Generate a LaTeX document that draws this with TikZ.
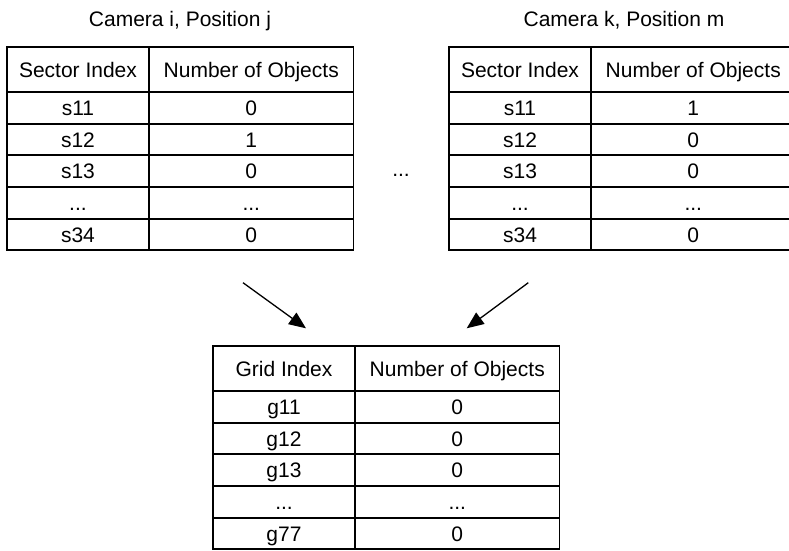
\documentclass[tikz,border=0pt]{standalone}
\usepackage{fontspec}
\setmainfont{Liberation Sans}
\usetikzlibrary{arrows.meta}

% one row of a two-column table: prefix, row number, y offset, left text, right text
\newcommand\tabrow[5]{%
  \node[cellA] (#1-#2-a) at (0,#3) {#4};
  \node[cellB] (#1-#2-b) at (142,#3) {#5};}

\begin{document}
\begin{tikzpicture}[x={(1pt,0)}, y={(0,-1pt)},
  every node/.style={font=\fontsize{21}{25}\selectfont},
  cellA/.style={draw, line width=1.8pt, rectangle, anchor=north west,
    inner sep=0pt, outer sep=0pt, minimum width=142pt, minimum height=31.67pt,
    text height=15pt, text depth=0pt},
  cellB/.style={cellA, minimum width=204.5pt},
  headA/.style={cellA, minimum height=45pt},
  headB/.style={cellB, minimum height=45pt},
  title/.style={anchor=base},
  flow/.style={line width=1.3pt, -{Triangle[length=17pt,width=14pt]}}]

\useasboundingbox (0,0) rectangle (789,550);

% titles
\node[title] (t1) at (180,26) {Camera i, Position j};
\node[title] (t2) at (624,26) {Camera k, Position m};

% first camera table
\begin{scope}[shift={(7,47)}]
  \node[headA] (L-h-a) at (0,0) {Sector Index};
  \node[headB] (L-h-b) at (142,0) {Number of Objects};
  \tabrow{L}{1}{45}{s11}{0}
  \tabrow{L}{2}{76.67}{s12}{1}
  \tabrow{L}{3}{108.33}{s13}{0}
  \tabrow{L}{4}{140}{...}{...}
  \tabrow{L}{5}{171.67}{s34}{0}
\end{scope}

% second camera table
\begin{scope}[shift={(449,47)}]
  \node[headA] (R-h-a) at (0,0) {Sector Index};
  \node[headB] (R-h-b) at (142,0) {Number of Objects};
  \tabrow{R}{1}{45}{s11}{1}
  \tabrow{R}{2}{76.67}{s12}{0}
  \tabrow{R}{3}{108.33}{s13}{0}
  \tabrow{R}{4}{140}{...}{...}
  \tabrow{R}{5}{171.67}{s34}{0}
\end{scope}

% ellipsis between the camera tables
\node[title] (gap) at (401,176) {...};

% merged grid table
\begin{scope}[shift={(213,346)}]
  \node[headA] (G-h-a) at (0,0) {Grid Index};
  \node[headB] (G-h-b) at (142,0) {Number of Objects};
  \tabrow{G}{1}{45}{g11}{0}
  \tabrow{G}{2}{76.67}{g12}{0}
  \tabrow{G}{3}{108.33}{g13}{0}
  \tabrow{G}{4}{140}{...}{...}
  \tabrow{G}{5}{171.67}{g77}{0}
\end{scope}

% arrows into the grid table
\coordinate (a1s) at (243,282.7);
\coordinate (a1e) at (306,328.3);
\coordinate (a2s) at (528.3,282.7);
\coordinate (a2e) at (466.7,328.3);
\draw[flow] (a1s) -- (a1e);
\draw[flow] (a2s) -- (a2e);
\end{tikzpicture}
\end{document}
